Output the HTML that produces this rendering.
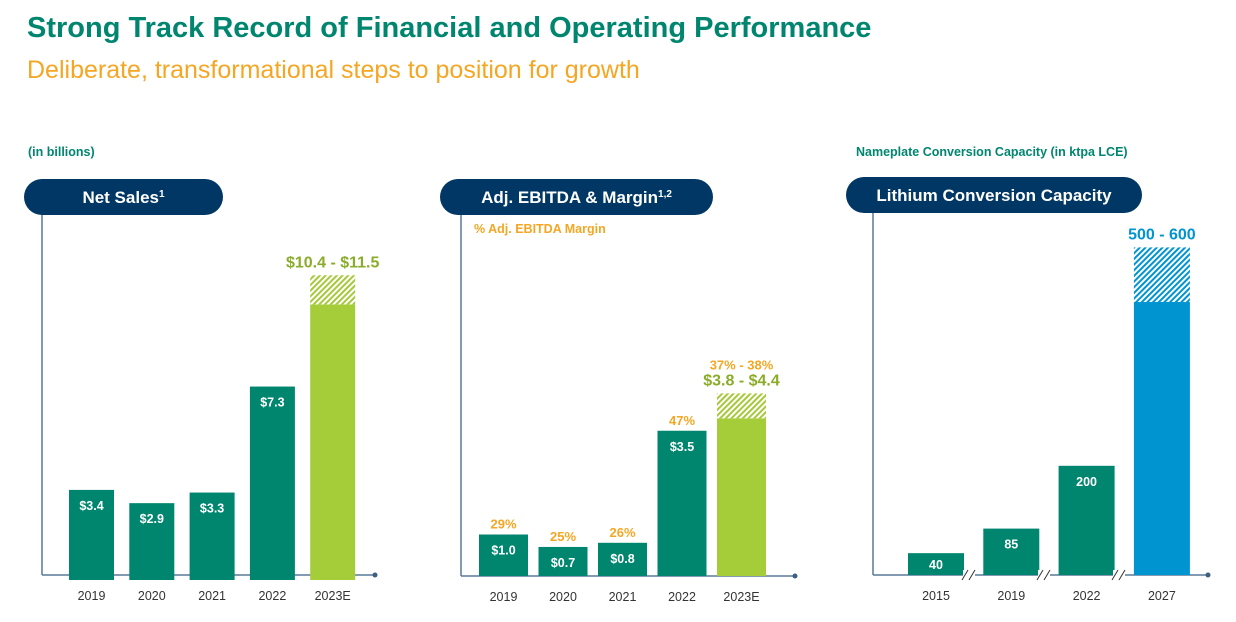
<!DOCTYPE html>
<html><head><meta charset="utf-8"><style>
body{margin:0;width:1236px;height:622px;background:#fff;font-family:"Liberation Sans",Arial,sans-serif;overflow:hidden}
svg{position:absolute;left:0;top:0}
text{font-family:"Liberation Sans",Arial,sans-serif}
</style></head><body>
<svg width="1236" height="622">
<defs>
<pattern id="hg" width="4" height="4" patternUnits="userSpaceOnUse" patternTransform="rotate(45)"><rect width="4" height="4" fill="#fff"/><rect width="2" height="4" fill="#a5c93a"/></pattern>
<pattern id="hb" width="4" height="4" patternUnits="userSpaceOnUse" patternTransform="rotate(45)"><rect width="4" height="4" fill="#fff"/><rect width="2" height="4" fill="#0094d0"/></pattern>
</defs>
<text x="27" y="37" font-size="29" font-weight="bold" fill="#00866f" letter-spacing="0">Strong Track Record of Financial and Operating Performance</text>
<text x="27" y="78" font-size="25" fill="#f5a623">Deliberate, transformational steps to position for growth</text>
<text x="28" y="156" font-size="12.5" font-weight="bold" fill="#00866f">(in billions)</text>
<text x="856" y="156" font-size="12.5" font-weight="bold" fill="#00866f">Nameplate Conversion Capacity (in ktpa LCE)</text>
<g id="c1"></g>
<g id="c2"></g>
<g id="c3"></g>
</svg>
<script>
const salesCats=["2019","2020","2021","2022","2023E"];
const salesVals=[3.4,2.9,3.3,7.3,10.4];
const salesHigh=[null,null,null,null,11.5];
const salesLabels=["$3.4","$2.9","$3.3","$7.3",""];
const ebitdaCats=["2019","2020","2021","2022","2023E"];
const ebitdaVals=[1.0,0.7,0.8,3.5,3.8];
const ebitdaHigh=[null,null,null,null,4.4];
const ebitdaLabels=["$1.0","$0.7","$0.8","$3.5",""];
const marginLabels=["29%","25%","26%","47%","37% - 38%"];
const capCats=["2015","2019","2022","2027"];
const capVals=[40,85,200,500];
const capHigh=[null,null,null,600];
const capLabels=["40","85","200",""];
const NS="http://www.w3.org/2000/svg";
function el(p,t,a){const e=document.createElementNS(NS,t);for(const k in a)e.setAttribute(k,a[k]);p.appendChild(e);return e;}
function txt(p,x,y,s,a){const e=el(p,"text",Object.assign({x:x,y:y,"text-anchor":"middle"},a));e.textContent=s;return e;}
function pill(g,x,y,w,label,sup){
  const r=el(g,"rect",{x:x,y:y,width:w,height:36,rx:18,fill:"#003764"});
  
  
  const t=el(g,"text",{x:x+w/2,y:y+24,"text-anchor":"middle","font-size":17,"font-weight":"bold",fill:"#fff"});
  t.textContent=label;
  if(sup){const s=el(t,"tspan",{"font-size":10,dy:-6});s.textContent=sup;}
  
  
}
function chart(g,o){
  const yS=v=>o.base-v*o.k;
  el(g,"line",{x1:o.ax,y1:o.top,x2:o.ax,y2:o.axisY,stroke:"#5a7a99","stroke-width":1.5});
  el(g,"line",{x1:o.ax,y1:o.axisY,x2:o.ax2,y2:o.axisY,stroke:"#5a7a99","stroke-width":1.5});
  el(g,"circle",{cx:o.ax2,cy:o.axisY,r:2.5,fill:"#3d5f80"});
  o.cats.forEach((c,i)=>{
    const x=o.x0+i*o.step, v=o.vals[i], last=o.high[i]!=null;
    const b=el(g,"rect",{x:x,y:yS(v),width:o.bw,height:o.base-yS(v),fill:last?o.lastColor:"#00866f"});
    
    
    if(last){
      const h=el(g,"rect",{x:x,y:yS(o.high[i]),width:o.bw,height:yS(v)-yS(o.high[i]),fill:o.hatch});
      
      
    }
    if(o.labels[i]){const t=txt(g,x+o.bw/2,Math.min(yS(v)+20,o.base-6),o.labels[i],{"font-size":12.5,"font-weight":"bold",fill:"#fff"});
      
      }
    const xl=txt(g,x+o.bw/2,o.axisY+25,c,{"font-size":12.5,fill:"#333"});
    
    
    if(o.margins){const m=txt(g,x+o.bw/2,(last?yS(o.high[i])-24:yS(v)-6),o.margins[i],{"font-size":13,"font-weight":"bold",fill:"#f5a623"});
      
      }
    if(last){const r=txt(g,x+o.bw/2,yS(o.high[i])-8,o.rangeLabel,{"font-size":16,"font-weight":"bold",fill:o.rangeColor});
      
      }
  });
}
const g1=document.getElementById("c1"),g2=document.getElementById("c2"),g3=document.getElementById("c3");
chart(g1,{cats:salesCats,vals:salesVals,high:salesHigh,labels:salesLabels,base:580,k:26.5,ax:42,ax2:375,axisY:575,top:210,x0:69,step:60.3,bw:45,lastColor:"#a5cd39",hatch:"url(#hg)",rangeLabel:"$10.4 - $11.5",rangeColor:"#8aac2a"});
pill(g1,24,179,199,"Net Sales","1");
chart(g2,{cats:ebitdaCats,vals:ebitdaVals,high:ebitdaHigh,labels:ebitdaLabels,margins:marginLabels,base:576,k:41.5,ax:461,ax2:795,axisY:576,top:210,x0:479,step:59.5,bw:49,lastColor:"#a5cd39",hatch:"url(#hg)",rangeLabel:"$3.8 - $4.4",rangeColor:"#8aac2a"});
pill(g2,440,179,273,"Adj. EBITDA & Margin","1,2");
const ml=txt(g2,474,233,"% Adj. EBITDA Margin",{"text-anchor":"start","font-size":12.5,"font-weight":"bold",fill:"#f5a623"});


chart(g3,{cats:capCats,vals:capVals,high:capHigh,labels:capLabels,base:575,k:0.546,ax:873,ax2:1208,axisY:575,top:208,x0:908,step:75.3,bw:56,lastColor:"#0094d0",hatch:"url(#hb)",rangeLabel:"500 - 600",rangeColor:"#0094d0"});
pill(g3,846,177,296,"Lithium Conversion Capacity","");
[969,1044,1119].forEach(x=>{
  const b=el(g3,"g",{});
  
  
  el(b,"rect",{x:x-6,y:570,width:12,height:10,fill:"#fff"});
  el(b,"line",{x1:x-7,y1:580,x2:x-1,y2:570,stroke:"#333","stroke-width":1});
  el(b,"line",{x1:x,y1:580,x2:x+6,y2:570,stroke:"#333","stroke-width":1});
});
</script>
</body></html>
